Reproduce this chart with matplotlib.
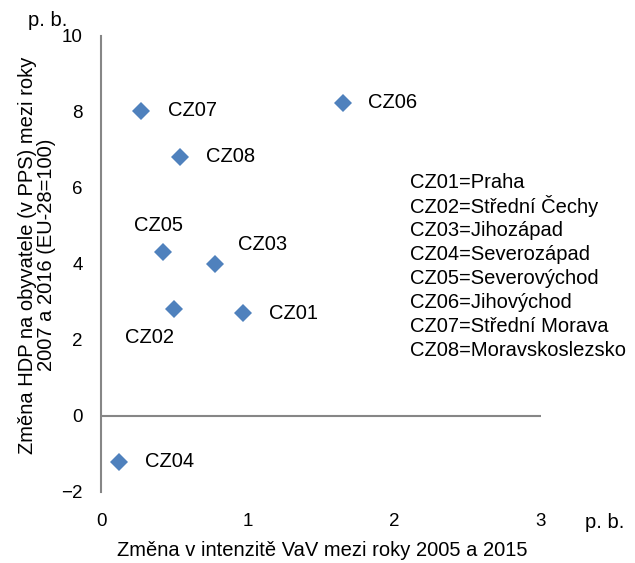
import matplotlib.pyplot as plt

plt.rcParams['font.family'] = ['Liberation Sans', 'DejaVu Sans']

# data
regiony = ['CZ01', 'CZ02', 'CZ03', 'CZ04', 'CZ05', 'CZ06', 'CZ07', 'CZ08']
vav_zmena = [0.97, 0.50, 0.78, 0.12, 0.42, 1.65, 0.27, 0.54]
hdp_zmena = [2.71, 2.82, 4.00, -1.21, 4.32, 8.24, 8.03, 6.82]
nazvy = ['Praha', 'Střední Čechy', 'Jihozápad', 'Severozápad',
         'Severovýchod', 'Jihovýchod', 'Střední Morava', 'Moravskoslezsko']

# label offsets (pixels) relative to the point: dx, dy, ha
posuny = {
    'CZ01': (26, 0, 'left'), 'CZ02': (-25, -29, 'center'),
    'CZ03': (47, 20, 'center'), 'CZ04': (26, 0, 'left'),
    'CZ05': (-4, 26, 'center'), 'CZ06': (25, 0, 'left'),
    'CZ07': (27, 0, 'left'), 'CZ08': (26, 0, 'left'),
}

modra = '#4F81BD'
seda = '#868686'
fs = 14.5

fig = plt.figure(figsize=(6.35, 5.63), dpi=100)
ax = fig.add_axes([101/635, 1 - 492/563, 440/635, 456/563])

ax.plot(vav_zmena, hdp_zmena, linestyle='none', marker='D', ms=9.5,
        color=modra, markeredgewidth=0)

px = 0.72  # pixel -> point at dpi 100
for r, x, y in zip(regiony, vav_zmena, hdp_zmena):
    dx, dy, ha = posuny[r]
    ax.annotate(r, (x, y), xytext=(dx * px, dy * px), textcoords='offset points',
                ha=ha, va='center', fontsize=fs)

ax.set_xlim(0, 3)
ax.set_ylim(-2, 10)
ax.set_xticks([0, 1, 2, 3])
ax.set_yticks(range(-2, 11, 2))
ax.tick_params(length=0, labelsize=fs - 1)
ax.tick_params(axis='x', pad=15)
ax.tick_params(axis='y', pad=13)

for s in ['top', 'right', 'bottom']:
    ax.spines[s].set_visible(False)
ax.spines['left'].set_color(seda)
ax.spines['left'].set_linewidth(1.5)
ax.axhline(0, color=seda, linewidth=1.5)

fig.text(322/635, 1 - 550/563, 'Změna v intenzitě VaV mezi roky 2005 a 2015',
         ha='center', va='center', fontsize=fs)
fig.text(37/635, 1 - 255/563,
         'Změna HDP na obyvatele (v PPS) mezi roky\n2007 a 2016 (EU-28=100)',
         ha='center', va='center', rotation=90, fontsize=fs, linespacing=0.95)
fig.text(48/635, 1 - 20/563, 'p. b.', ha='center', va='center', fontsize=fs)
fig.text(605/635, 1 - 522/563, 'p. b.', ha='center', va='center', fontsize=fs)

for i, (r, n) in enumerate(zip(regiony, nazvy)):
    fig.text(410/635, 1 - (182 + 24 * i)/563, f'{r}={n}',
             ha='left', va='center', fontsize=fs)

fig.savefig('out.png', dpi=100)
